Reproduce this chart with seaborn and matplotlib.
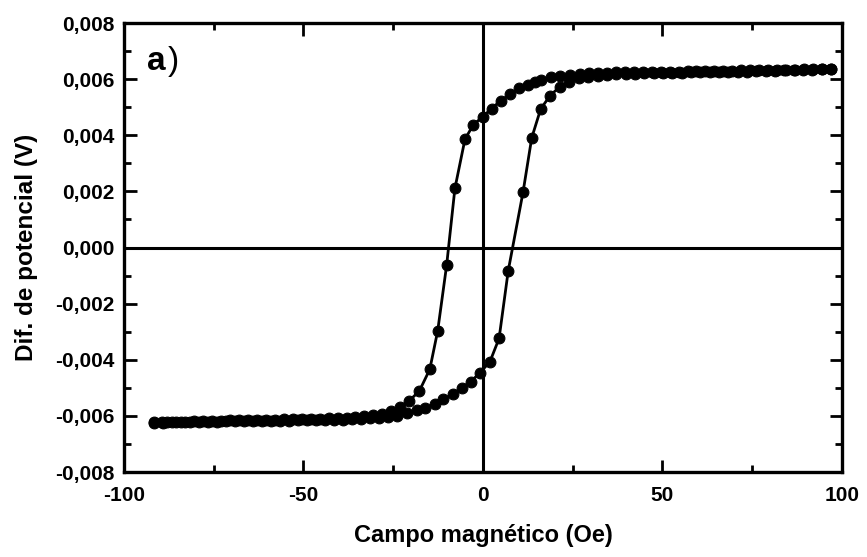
import matplotlib
matplotlib.use("Agg")
import matplotlib.pyplot as plt
from matplotlib.ticker import MultipleLocator, FuncFormatter
import seaborn as sns
import pandas as pd

# Descending branch (field swept from + to -)
desc_x = [97.0, 94.5, 92.0, 89.5, 87.0, 84.5, 82.0, 79.5, 77.0, 74.5, 72.0, 69.5,
          67.0, 64.5, 62.0, 59.5, 57.0, 54.5, 52.0, 49.5, 47.0, 44.5, 42.0, 39.5,
          37.0, 34.5, 32.0, 29.5, 27.0, 24.2, 21.4, 19.1, 16.3, 14.5, 12.6, 10.1,
          7.5, 4.9, 2.4, -0.1, -2.7, -5.0, -7.8, -10.1, -12.6, -14.8, -17.7, -20.5,
          -23.1, -25.5, -28.0, -30.5, -33.0, -35.5, -38.0, -40.5, -43.0, -45.5,
          -48.0, -50.5, -53.0, -55.5, -58.0, -60.5, -63.0, -65.5, -68.0, -70.5,
          -73.0, -75.5, -78.0, -80.5, -83.0, -85.5, -88.0, -89.5, -91.5]
desc_y = [0.00636, 0.00636, 0.00635, 0.00635, 0.00634, 0.00634, 0.00633, 0.00632,
          0.00632, 0.00631, 0.00631, 0.00630, 0.00630, 0.00629, 0.00629, 0.00628,
          0.00628, 0.00627, 0.00627, 0.00626, 0.00626, 0.00625, 0.00625, 0.00624,
          0.00624, 0.00623, 0.00622, 0.00621, 0.00619, 0.00615, 0.00611, 0.00606,
          0.00598, 0.00589, 0.00579, 0.00567, 0.00546, 0.00523, 0.00495, 0.00466,
          0.00437, 0.00386, 0.00211, -0.00062, -0.00297, -0.00434, -0.00511,
          -0.00546, -0.00567, -0.00582, -0.00592, -0.00598, -0.00602, -0.00605,
          -0.00607, -0.00608, -0.00609, -0.00610, -0.00611, -0.00611, -0.00612,
          -0.00612, -0.00613, -0.00614, -0.00614, -0.00615, -0.00616, -0.00616,
          -0.00617, -0.00618, -0.00619, -0.00620, -0.00621, -0.00622, -0.00622,
          -0.00623, -0.00623]

# Ascending branch (field swept from - to +)
asc_x = [-91.5, -89.0, -86.5, -84.0, -81.5, -79.0, -76.5, -74.0, -71.5, -69.0,
         -66.5, -64.0, -61.5, -59.0, -56.5, -54.0, -51.5, -49.0, -46.5, -44.0,
         -41.5, -39.0, -36.5, -34.0, -31.5, -29.0, -26.5, -24.0, -21.2, -18.5,
         -16.2, -13.4, -11.1, -8.3, -5.9, -3.4, -0.8, 1.95, 4.5, 7.05, 11.2, 13.6,
         16.1, 18.7, 21.4, 24.0, 26.7, 29.3, 32.0, 34.6, 37.2, 39.8, 42.4, 45.0,
         47.6, 50.2, 52.8, 55.4, 58.0, 60.6, 63.2, 65.8, 68.4, 71.0, 73.6, 76.2,
         78.8, 81.4, 84.0, 86.6, 89.2, 91.8, 94.4, 97.0]
asc_y = [-0.00624, -0.00624, -0.00623, -0.00623, -0.00622, -0.00622, -0.00621,
         -0.00621, -0.00620, -0.00620, -0.00619, -0.00619, -0.00618, -0.00618,
         -0.00617, -0.00617, -0.00616, -0.00616, -0.00615, -0.00615, -0.00614,
         -0.00613, -0.00612, -0.00611, -0.00609, -0.00607, -0.00604, -0.00600,
         -0.00591, -0.00580, -0.00572, -0.00557, -0.00541, -0.00522, -0.00500,
         -0.00478, -0.00446, -0.00407, -0.00324, -0.00083, 0.00199, 0.00391,
         0.00494, 0.00541, 0.00573, 0.00591, 0.00603, 0.00609, 0.00613, 0.00616,
         0.00618, 0.00619, 0.00620, 0.00621, 0.00622, 0.00622, 0.00623, 0.00623,
         0.00624, 0.00624, 0.00625, 0.00625, 0.00626, 0.00626, 0.00627, 0.00628,
         0.00629, 0.00630, 0.00631, 0.00632, 0.00633, 0.00634, 0.00635, 0.00636]

x_ticks = [-100, -50, 0, 50, 100]
y_ticks = [-0.008, -0.006, -0.004, -0.002, 0.0, 0.002, 0.004, 0.006, 0.008]

sns.set_theme(style="white")
plt.rcParams['font.family'] = ['Liberation Sans', 'DejaVu Sans']
plt.rcParams['font.weight'] = 'bold'
plt.rcParams['text.color'] = 'black'
plt.rcParams['axes.labelcolor'] = 'black'
plt.rcParams['xtick.color'] = 'black'
plt.rcParams['ytick.color'] = 'black'

fig = plt.figure(figsize=(8.67, 5.57), dpi=100)
ax = fig.add_axes([0.143, 0.1526, 0.828, 0.806])

ax.axhline(0, color='black', lw=2.2, zorder=1)
ax.axvline(0, color='black', lw=2.2, zorder=1)

df_d = pd.DataFrame({"x": desc_x, "y": desc_y})
df_a = pd.DataFrame({"x": asc_x, "y": asc_y})
for df in (df_d, df_a):
    sns.lineplot(data=df, x="x", y="y", sort=False, estimator=None, ax=ax,
                 color='black', lw=2.0, marker='o', markersize=7.8,
                 markeredgecolor='black', markerfacecolor='black', zorder=3)

ax.set_xlim(-100, 100)
ax.set_ylim(-0.008, 0.008)
ax.set_xticks(x_ticks)
ax.set_yticks(y_ticks)
ax.xaxis.set_minor_locator(MultipleLocator(25))
ax.yaxis.set_minor_locator(MultipleLocator(0.001))
ax.yaxis.set_major_formatter(FuncFormatter(lambda v, p: f"{v:.3f}".replace('.', ',').replace('\u2212', '-')))
ax.xaxis.set_major_formatter(FuncFormatter(lambda v, p: f"{int(round(v))}"))

ax.tick_params(which='both', direction='in', top=True, right=True,
               bottom=True, left=True, width=2, color='black', labelcolor='black')
ax.tick_params(which='major', length=9, labelsize=15)
ax.tick_params(axis='x', which='major', pad=10)
ax.tick_params(axis='y', which='major', pad=7)
ax.tick_params(which='minor', length=5)
for lab in ax.get_xticklabels() + ax.get_yticklabels():
    lab.set_fontweight('bold')

for s in ax.spines.values():
    s.set_linewidth(2.4)
    s.set_color('black')
    s.set_visible(True)

ax.set_xlabel("Campo magnético (Oe)", fontsize=17, fontweight='bold', labelpad=14,
              color='black')
ax.set_ylabel("Dif. de potencial (V)", fontsize=17.5, fontweight='bold', labelpad=12,
              color='black')

ax.text(0.032, 0.895, "a", transform=ax.transAxes, fontsize=24, fontweight='bold',
        va='baseline', ha='left', color='black')
ax.text(0.061, 0.895, ")", transform=ax.transAxes, fontsize=24, fontweight='normal',
        va='baseline', ha='left', color='black')

fig.savefig("out.png", dpi=100)
